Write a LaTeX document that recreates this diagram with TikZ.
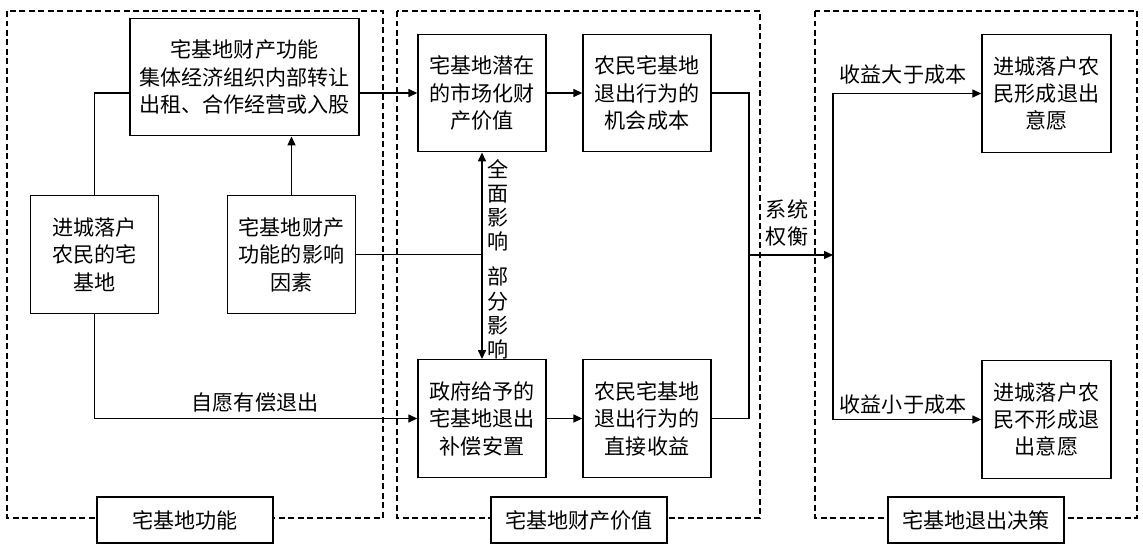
\documentclass[tikz,border=0pt]{standalone}
\usepackage{fontspec}
\newfontfamily\cjk{Noto Sans CJK SC}
\usetikzlibrary{arrows.meta}

\begin{document}
\begin{tikzpicture}[x=0.02cm,y=-0.02cm,line width=0.8pt,
    font=\cjk\fontsize{12}{15.6}\selectfont]
\useasboundingbox (0,0) rectangle (1143,548);

\begin{scope}[dash pattern=on 1.2mm off 0.7mm,line width=0.6pt]
    \draw (7,11)   rectangle (383,518);
    \draw (397,11) rectangle (760,518);
    \draw (815,11) rectangle (1137,518);
\end{scope}

\begin{scope}[every node/.style={draw,fill=white,align=center,inner sep=0pt,
              minimum width=2.56cm,minimum height=2.35cm,font=\cjk\fontsize{12}{15.6}\selectfont}]
    \node (func)   at (244.5,77)  [minimum width=4.58cm] {宅基地财产功能\\集体经济组织内部转让\\出租、合作经营或入股};
    \node (home)   at (94.5,254.5)  {进城落户\\农民的宅\\基地};
    \node (factor) at (291.5,254.5) {宅基地财产\\功能的影响\\因素};
    \node (pot)    at (482,93)    {宅基地潜在\\的市场化财\\产价值};
    \node (opp)    at (647,93)    {农民宅基地\\退出行为的\\机会成本};
    \node (comp)   at (482,418.5) {政府给予的\\宅基地退出\\补偿安置};
    \node (direct) at (647,418.5) {农民宅基地\\退出行为的\\直接收益};
    \node (will)   at (1046.5,93.5)  [minimum width=2.58cm] {进城落户农\\民形成退出\\意愿};
    \node (nowill) at (1046.5,419.5) [minimum width=2.58cm] {进城落户农\\民不形成退\\出意愿};
\end{scope}

\begin{scope}[every node/.style={draw,fill=white,inner sep=0pt,
              minimum width=3.52cm,minimum height=0.92cm,font=\cjk\fontsize{12}{15.6}\selectfont}]
    \node (lab1) at (185,520) {宅基地功能};
    \node (lab2) at (579,520) {宅基地财产价值};
    \node (lab3) at (976,520) {宅基地退出决策};
\end{scope}

\coordinate (sys)   at (749,255);
\coordinate (split) at (833,255);

\begin{scope}[>={Triangle[length=1.8mm,width=1.6mm]}]
    \draw (func.west |- pot.west) -| (home.north);
    \draw [->] (func.east |- pot.west) -- (pot.west);
    \draw [->] (factor.north) -- (factor.north |- func.south);
    \draw [->] (home.south) |- (comp.west);
    \draw (factor.east) -- (factor.east -| pot.south);
    \draw [<->] (pot.south) -- (comp.north);
    \draw [->] (pot) -- (opp);
    \draw [->] (comp) -- (direct);
    \draw (opp.east) -| (sys);
    \draw (direct.east) -| (sys);
    \draw [->] (sys) -- (split);
    \draw [->] (split) |- (will.west);
    \draw [->] (split) |- (nowill.west);
\end{scope}

\begin{scope}[every node/.style={inner sep=0pt,align=center}]
    \node (quit)  at (255,403) {自愿有偿退出};
    \node (full)  at (498,205) [font=\cjk\fontsize{12}{13.7}\selectfont] {全\\面\\影\\响};
    \node (part)  at (498,313) [font=\cjk\fontsize{12}{13.7}\selectfont] {部\\分\\影\\响};
    \node (trade) at (787,223) {系统\\权衡};
    \node (gain)  at (903,75)  {收益大于成本};
    \node (loss)  at (903,405) {收益小于成本};
\end{scope}
\end{tikzpicture}
\end{document}
